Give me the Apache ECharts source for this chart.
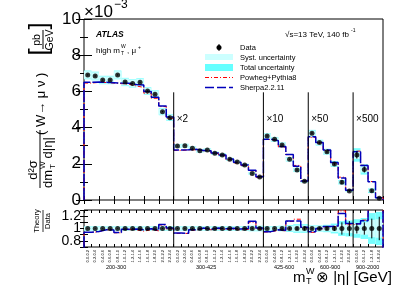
<!DOCTYPE html>
<html><head><meta charset="utf-8">
<script src="https://cdn.jsdelivr.net/npm/echarts@6/dist/echarts.min.js"></script>
<style>html,body{margin:0;padding:0;background:#fff}#c{width:399px;height:286px}</style>
</head><body><div id="c"></div>
<script>
// ---------------- data ----------------
const mtBins = ['200-300', '300-425', '425-600', '600-900', '900-2000'];
const sectionStarts = [0, 12, 24, 30, 36];
const scaleLabels = ['', '×2', '×10', '×50', '×500'];
const etaBins = [
  '0.0-0.2','0.2-0.4','0.4-0.6','0.6-0.8','0.8-1.0','1.0-1.2','1.2-1.4','1.4-1.6','1.6-1.8','1.8-2.0','2.0-2.2','2.2-2.4',
  '0.0-0.2','0.2-0.4','0.4-0.6','0.6-0.8','0.8-1.0','1.0-1.2','1.2-1.4','1.4-1.6','1.6-1.8','1.8-2.0','2.0-2.2','2.2-2.4',
  '0.0-0.4','0.4-0.8','0.8-1.2','1.2-1.6','1.6-2.0','2.0-2.4',
  '0.0-0.4','0.4-0.8','0.8-1.2','1.2-1.6','1.6-2.0','2.0-2.4',
  '0.0-0.6','0.6-1.2','1.2-1.8','1.8-2.4'
];
// displayed values (x10^-3 pb/GeV, including the x2/x10/x50/x500 scale factors)
const dataVals = [
  6.91, 6.85, 6.63, 6.63, 6.91, 6.52, 6.44, 6.50, 6.02, 5.84, 4.88, 4.55,
  2.98, 3.00, 2.86, 2.72, 2.76, 2.58, 2.49, 2.25, 2.10, 1.93, 1.47, 1.27,
  3.54, 3.35, 3.04, 2.25, 1.66, 1.03,
  3.69, 3.17, 2.67, 1.99, 0.98, 0.50,
  2.49, 1.69, 0.51, 0.09
];
const sherpaVals = [
  6.50, 6.52, 6.50, 6.48, 6.46, 6.45, 6.38, 6.36, 6.00, 5.68, 5.20, 4.58,
  2.76, 2.77, 2.80, 2.74, 2.72, 2.60, 2.48, 2.26, 2.08, 1.93, 1.64, 1.28,
  3.36, 3.28, 2.95, 2.52, 1.86, 1.05,
  3.50, 3.17, 2.76, 2.07, 1.22, 0.54,
  2.67, 1.90, 1.01, 0.13
];
const powhegVals = [
  6.46, 6.50, 6.49, 6.46, 6.43, 6.40, 6.30, 6.22, 5.90, 5.62, 5.16, 4.52,
  2.74, 2.76, 2.78, 2.72, 2.70, 2.57, 2.45, 2.22, 2.05, 1.90, 1.62, 1.26,
  3.34, 3.26, 2.92, 2.51, 1.91, 1.04,
  3.46, 3.15, 2.74, 2.05, 1.26, 0.53,
  2.70, 1.92, 1.02, 0.13
];
// relative uncertainties
const totUnc = [
  0.035,0.035,0.035,0.035,0.035,0.035,0.035,0.035,0.035,0.037,0.040,0.040,
  0.035,0.035,0.035,0.035,0.035,0.035,0.036,0.037,0.038,0.040,0.045,0.045,
  0.040,0.040,0.045,0.055,0.070,0.070,
  0.050,0.050,0.060,0.080,0.120,0.130,
  0.150,0.170,0.250,0.270
];
const systUnc = [
  0.030,0.030,0.030,0.030,0.030,0.030,0.030,0.030,0.030,0.032,0.034,0.034,
  0.030,0.030,0.030,0.030,0.030,0.030,0.030,0.031,0.032,0.033,0.036,0.036,
  0.033,0.033,0.036,0.042,0.050,0.050,
  0.040,0.040,0.045,0.055,0.070,0.075,
  0.090,0.100,0.140,0.150
];
const statUnc = [
  0.005,0.005,0.005,0.005,0.005,0.005,0.005,0.005,0.006,0.006,0.007,0.007,
  0.007,0.007,0.007,0.007,0.007,0.007,0.008,0.008,0.009,0.010,0.012,0.012,
  0.010,0.010,0.012,0.015,0.025,0.030,
  0.015,0.020,0.025,0.040,0.100,0.120,
  0.080,0.100,0.160,0.190
];

// ---------------- chart ----------------
const FONT = '"Liberation Sans", Arial, Helvetica, sans-serif';
const N = dataVals.length;
const chart = echarts.init(document.getElementById('c'), null, {renderer: 'canvas'});

function histLine(vals) {
  const pts = [[0, 0]];
  vals.forEach((v, i) => { pts.push([i, v]); pts.push([i + 1, v]); });
  pts.push([N, 0]);
  return pts;
}
const sherpaRatio = sherpaVals.map((v, i) => v / dataVals[i]);
const powhegRatio = powhegVals.map((v, i) => v / dataVals[i]);

function boxSeries(xi, yi, vals, unc, color, z) {
  return {
    type: 'custom', xAxisIndex: xi, yAxisIndex: yi, z: z, silent: true,
    data: vals.map((v, i) => [i, v, unc[i]]),
    encode: {x: 0, y: 1},
    renderItem: (p, api) => {
      const i = api.value(0), v = api.value(1), u = api.value(2);
      const a = api.coord([i, v * (1 + u)]), b = api.coord([i + 1, v * (1 - u)]);
      return {type: 'rect', shape: {x: a[0], y: a[1], width: b[0] - a[0], height: b[1] - a[1]},
              style: {fill: color, stroke: null}};
    }
  };
}
function errSeries(xi, yi, vals, unc, z) {
  return {
    type: 'custom', xAxisIndex: xi, yAxisIndex: yi, z: z, silent: true,
    data: vals.map((v, i) => [i + 0.5, v, unc[i]]),
    encode: {x: 0, y: 1},
    renderItem: (p, api) => {
      const x = api.value(0), v = api.value(1), u = api.value(2);
      const a = api.coord([x, v * (1 + u)]), b = api.coord([x, v * (1 - u)]);
      return {type: 'line', shape: {x1: a[0], y1: a[1], x2: b[0], y2: b[1]},
              style: {stroke: '#000', lineWidth: 1}};
    }
  };
}
function sepSeries(xi, yi, yLo, yHi, withLabels) {
  return {
    type: 'custom', xAxisIndex: xi, yAxisIndex: yi, z: 6, silent: true,
    data: sectionStarts.slice(1).map((s, k) => [s, k + 1]),
    encode: {x: 0},
    renderItem: (p, api) => {
      const s = api.value(0), k = api.value(1);
      const a = api.coord([s, yLo]), b = api.coord([s, yHi]);
      const children = [{type: 'line', shape: {x1: a[0], y1: a[1], x2: b[0], y2: b[1]},
                          style: {stroke: '#000', lineWidth: 1}}];
      if (withLabels) {
        const t = api.coord([s, 4.45]);
        children.push({type: 'text', x: t[0] + 3, y: t[1],
          style: {text: scaleLabels[k], font: '10px ' + FONT, fill: '#000',
                  align: 'left', verticalAlign: 'middle'}});
      }
      return {type: 'group', children: children};
    }
  };
}

const tickStyle = {color: '#000', width: 1};
function xAx(grid, pos, interval, len) {
  return {gridIndex: grid, type: 'value', min: 0, max: N, interval: interval, position: pos,
    axisLine: {show: false}, axisTick: {show: true, inside: true, length: len, lineStyle: tickStyle},
    axisLabel: {show: false}, splitLine: {show: false}};
}

const option = {
  animation: false,
  backgroundColor: '#fff',
  grid: [
    {left: 84, top: 19, width: 299, height: 181, show: true, borderColor: '#000', borderWidth: 1, backgroundColor: 'transparent'},
    {left: 84, top: 210, width: 299, height: 37, show: true, borderColor: '#000', borderWidth: 1, backgroundColor: 'transparent'}
  ],
  xAxis: [
    xAx(0, 'bottom', 2, 4),
    xAx(0, 'top', 2, 4),
    xAx(1, 'bottom', 1, 3),
    xAx(1, 'top', 1, 3),
    {gridIndex: 1, type: 'category', data: etaBins, position: 'bottom', boundaryGap: true,
     axisLine: {show: false}, axisTick: {show: false}, splitLine: {show: false},
     axisLabel: {interval: 0, rotate: 90, fontSize: 4, margin: 3, color: '#000', fontFamily: FONT, hideOverlap: false}}
  ],
  yAxis: [
    {gridIndex: 0, type: 'value', min: 0, max: 10, interval: 2, position: 'left',
     axisLine: {show: false}, axisTick: {inside: true, length: 8, lineStyle: tickStyle},
     minorTick: {show: true, splitNumber: 2, length: 4, lineStyle: tickStyle},
     axisLabel: {fontSize: 17, margin: 3, color: '#000', fontFamily: FONT}, splitLine: {show: false}},
    {gridIndex: 0, type: 'value', min: 0, max: 10, interval: 2, position: 'right',
     axisLine: {show: false}, axisTick: {inside: true, length: 8, lineStyle: tickStyle},
     minorTick: {show: true, splitNumber: 2, length: 4, lineStyle: tickStyle},
     axisLabel: {show: false}, splitLine: {show: false}},
    {gridIndex: 1, type: 'value', min: 0.7, max: 1.3, interval: 0.1, position: 'left',
     axisLine: {show: false}, axisTick: {inside: true, length: 4, lineStyle: tickStyle},
     axisLabel: {fontSize: 14, margin: 3, color: '#000', fontFamily: FONT,
       formatter: v => { const r = Math.round(v * 10) / 10; return r === 0.8 ? '0.8' : r === 1 ? '1' : r === 1.2 ? '1.2' : ''; }},
     splitLine: {show: false}},
    {gridIndex: 1, type: 'value', min: 0.7, max: 1.3, interval: 0.1, position: 'right',
     axisLine: {show: false}, axisTick: {inside: true, length: 4, lineStyle: tickStyle},
     axisLabel: {show: false}, splitLine: {show: false}}
  ],
  series: [
    // main panel
    boxSeries(0, 0, dataVals, totUnc, '#77ffff', 1),
    boxSeries(0, 0, dataVals, systUnc, '#ccffff', 2),
    {type: 'line', xAxisIndex: 0, yAxisIndex: 0, data: histLine(powhegVals), symbol: 'none', z: 3,
     lineStyle: {color: '#ff0000', width: 1, type: [4, 2, 1, 2]}},
    {type: 'line', xAxisIndex: 0, yAxisIndex: 0, data: histLine(sherpaVals), symbol: 'none', z: 4,
     lineStyle: {color: '#0000bb', width: 1.5, type: [12, 2]}},
    errSeries(0, 0, dataVals, statUnc, 5),
    {type: 'scatter', xAxisIndex: 0, yAxisIndex: 0, data: dataVals.map((v, i) => [i + 0.5, v]),
     symbol: 'circle', symbolSize: 5, itemStyle: {color: '#000'}, z: 6},
    sepSeries(0, 0, 0, 5.95, true),
    // ratio panel
    boxSeries(2, 2, dataVals.map(() => 1), totUnc, '#77ffff', 1),
    boxSeries(2, 2, dataVals.map(() => 1), systUnc, '#ccffff', 2),
    {type: 'line', xAxisIndex: 2, yAxisIndex: 2, data: histLine(powhegRatio), symbol: 'none', z: 3, clip: true,
     lineStyle: {color: '#ff0000', width: 1, type: [4, 2, 1, 2]}},
    {type: 'line', xAxisIndex: 2, yAxisIndex: 2, data: histLine(sherpaRatio), symbol: 'none', z: 4, clip: true,
     lineStyle: {color: '#0000bb', width: 1.5, type: [12, 2]}},
    errSeries(2, 2, dataVals.map(() => 1), statUnc, 5),
    {type: 'scatter', xAxisIndex: 2, yAxisIndex: 2, data: dataVals.map((v, i) => [i + 0.5, 1]),
     symbol: 'circle', symbolSize: 5, itemStyle: {color: '#000'}, z: 6},
    sepSeries(2, 2, 0.7, 1.3, false)
  ],
  graphic: []
};

const G = option.graphic;
function txt(x, y, text, size, extra) {
  const o = Object.assign({type: 'text', x: x, y: y, z: 10, silent: true,
    style: {text: text, font: size + 'px ' + FONT, fill: '#000', align: 'left', verticalAlign: 'middle'}}, extra || {});
  if (extra && extra.style) o.style = Object.assign({text: text, font: size + 'px ' + FONT, fill: '#000', align: 'left', verticalAlign: 'middle'}, extra.style);
  return o;
}
// exponent
G.push(txt(84, 12, '×10', 17));
G.push(txt(114, 5, '−3', 12));
// ATLAS labels
G.push(txt(96, 35, 'ATLAS', 8.5, {style: {font: 'italic bold 8.5px ' + FONT}}));
G.push(txt(96, 51, 'high m', 8));
G.push(txt(121, 47, 'W', 5));
G.push(txt(121, 54, 'T', 5));
G.push(txt(127, 51, ', μ', 8));
G.push(txt(138, 48, '+', 5));
G.push(txt(285, 35, '√s=13 TeV, 140 fb', 8));
G.push(txt(351, 31, '-1', 5));
// legend
const LX = 240;
G.push({type: 'line', z: 10, shape: {x1: 219, y1: 44, x2: 219, y2: 51}, style: {stroke: '#000', lineWidth: 1}});
G.push({type: 'circle', z: 10, shape: {cx: 219, cy: 47.5, r: 2.5}, style: {fill: '#000'}});
G.push(txt(LX, 47.5, 'Data', 7.5));
G.push({type: 'rect', z: 10, shape: {x: 205, y: 54, width: 28, height: 6}, style: {fill: '#ccffff'}});
G.push(txt(LX, 57.5, 'Syst. uncertainty', 7.5));
G.push({type: 'rect', z: 10, shape: {x: 205, y: 64, width: 28, height: 7}, style: {fill: '#66ffff'}});
G.push(txt(LX, 67.5, 'Total uncertainty', 7.5));
G.push({type: 'line', z: 10, shape: {x1: 205, y1: 77.5, x2: 233, y2: 77.5}, style: {stroke: '#ff0000', lineWidth: 1, lineDash: [4, 2, 1, 2]}});
G.push(txt(LX, 77.5, 'Powheg+Pythia8', 7.5));
G.push({type: 'line', z: 10, shape: {x1: 205, y1: 87.5, x2: 233, y2: 87.5}, style: {stroke: '#0000bb', lineWidth: 1.5, lineDash: [9, 3]}});
G.push(txt(LX, 87.5, 'Sherpa2.2.11', 7.5));
// section labels under ratio panel
const secLabelX = [106, 196, 274, 320, 356];
mtBins.forEach((m, k) => G.push(txt(secLabelX[k], 267, m, 5.5)));
// x title
G.push(txt(293, 278, 'm', 15));
G.push(txt(306, 272, 'W', 9));
G.push(txt(306, 282, 'T', 9));
G.push(txt(316, 278, '⊗ |η| [GeV]', 15));
// y title (rotated group: local (lx,ly) -> screen (ly, 200 - lx))
const R = Math.PI / 2;
const yTitle = {type: 'group', x: 0, y: 200, rotation: R, z: 10, silent: true, children: [
  txt(30, 33, 'd²σ', 13, {style: {align: 'center'}}),
  {type: 'line', shape: {x1: 12, y1: 40, x2: 70, y2: 40}, style: {stroke: '#000', lineWidth: 1}},
  txt(12, 48, 'dm', 13),
  txt(31, 43, 'W', 8),
  txt(31, 53, 'T', 8),
  txt(38, 48, ' d|η|', 13),
  txt(65, 41, '( W→ μ ν )', 13),
  txt(148, 40, '[', 26, {style: {align: 'center'}}),
  txt(160, 37, 'pb', 10.5, {style: {align: 'center'}}),
  {type: 'line', shape: {x1: 151, y1: 43, x2: 170, y2: 43}, style: {stroke: '#000', lineWidth: 1}},
  txt(160, 50, 'GeV', 10.5, {style: {align: 'center'}}),
  txt(174, 40, ']', 26, {style: {align: 'center'}}),
  // ratio title
  txt(-21, 37, 'Theory', 7.5, {style: {align: 'center'}}),
  {type: 'line', shape: {x1: -32, y1: 43, x2: -10, y2: 43}, style: {stroke: '#000', lineWidth: 0.8}},
  txt(-21, 48, 'Data', 7.5, {style: {align: 'center'}})
]};
G.push(yTitle);

chart.setOption(option);
</script>
</body></html>
